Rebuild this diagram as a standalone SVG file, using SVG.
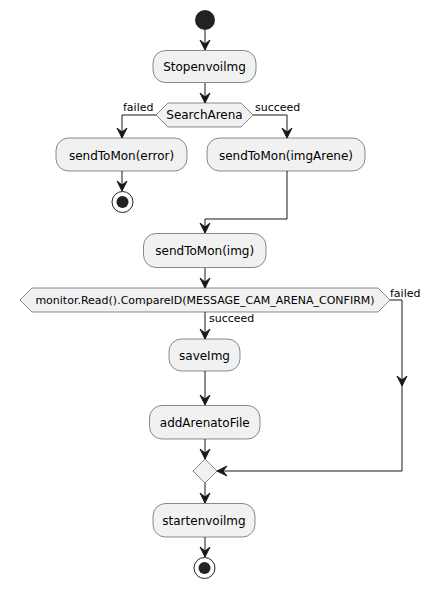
<svg xmlns="http://www.w3.org/2000/svg" width="432" height="589" viewBox="0 0 432 589">
<defs>
<style>
.box{fill:#F1F1F1;stroke:#181818;stroke-width:0.5}
.t{font-family:"DejaVu Sans",sans-serif;font-size:12px;fill:#000;text-anchor:middle}
.l{font-family:"DejaVu Sans",sans-serif;font-size:11px;fill:#000}
.c{fill:none;stroke:#181818;stroke-width:1}
.ah{fill:#181818;stroke:#181818;stroke-width:1}
</style>
<polygon id="ad" class="ah" points="0,0 -5,-10 0,-6 5,-10"/>
</defs>
<rect width="432" height="589" fill="#fff"/>
<g id="start"><circle cx="205" cy="20" r="10" fill="#222"/></g>
<g id="stopenvoi"><rect class="box" x="153" y="50.5" width="103" height="32" rx="12.5"/><text class="t" x="204.5" y="71">Stopenvoilmg</text></g>
<g id="searcharena"><polygon class="box" points="156,115 168,103 241,103 253,115 241,127 168,127"/><text class="t" x="204.5" y="119">SearchArena</text></g>
<g id="senderror"><rect class="box" x="56" y="138" width="131" height="33" rx="12.5"/><text class="t" x="121.5" y="160">sendToMon(error)</text></g>
<g id="stop1"><circle cx="122.5" cy="202" r="10.5" fill="none" stroke="#222" stroke-width="1"/><circle cx="122.5" cy="202" r="6" fill="#222"/></g>
<g id="sendimgarene"><rect class="box" x="207" y="138" width="158" height="33" rx="12.5"/><text class="t" x="286" y="160">sendToMon(imgArene)</text></g>
<g id="sendimg"><rect class="box" x="143.5" y="233.5" width="122.5" height="34" rx="12.5"/><text class="t" x="204.75" y="255">sendToMon(img)</text></g>
<g id="compare"><polygon class="box" points="20,300 32,288 378,288 390,300 378,312 32,312"/><text class="t" x="205" y="304" style="font-size:11px">monitor.Read().CompareID(MESSAGE_CAM_ARENA_CONFIRM)</text></g>
<g id="saveimg"><rect class="box" x="169" y="339" width="71" height="32" rx="12.5"/><text class="t" x="204.5" y="360">saveImg</text></g>
<g id="addarena"><rect class="box" x="149.5" y="405.5" width="110.5" height="33.5" rx="12.5"/><text class="t" x="204.75" y="427">addArenatoFile</text></g>
<g id="merge"><polygon class="box" points="193,471 205,459 217,471 205,483"/></g>
<g id="startenvoi"><rect class="box" x="153" y="503.5" width="102" height="33.5" rx="12.5"/><text class="t" x="204" y="525">startenvoilmg</text></g>
<g id="stop2"><circle cx="204.5" cy="568" r="10.5" fill="none" stroke="#222" stroke-width="1"/><circle cx="204.5" cy="568" r="6" fill="#222"/></g>
<g id="connectors">
<line class="c" x1="205" y1="30" x2="205" y2="50"/><use href="#ad" x="205" y="50"/>
<line class="c" x1="205" y1="83" x2="205" y2="103"/><use href="#ad" x="205" y="103"/>
<polyline class="c" points="156,115 122,115 122,138"/><use href="#ad" x="122" y="138"/>
<text class="l" x="123" y="111">failed</text>
<polyline class="c" points="253,115 287,115 287,138"/><use href="#ad" x="287" y="138"/>
<text class="l" x="255" y="111">succeed</text>
<line class="c" x1="122" y1="171" x2="122" y2="191"/><use href="#ad" x="122" y="191"/>
<polyline class="c" points="287,171 287,219 205,219 205,233"/><use href="#ad" x="205" y="233"/>
<line class="c" x1="205" y1="268" x2="205" y2="288"/><use href="#ad" x="205" y="288"/>
<line class="c" x1="205" y1="312" x2="205" y2="339"/><use href="#ad" x="205" y="339"/>
<text class="l" x="209" y="322">succeed</text>
<polyline class="c" points="390,300 402,300 402,471 217,471"/><use href="#ad" x="402" y="386"/>
<use href="#ad" transform="translate(217,471) rotate(90)"/>
<text class="l" x="390" y="297">failed</text>
<line class="c" x1="205" y1="371" x2="205" y2="405"/><use href="#ad" x="205" y="405"/>
<line class="c" x1="205" y1="439" x2="205" y2="459"/><use href="#ad" x="205" y="459"/>
<line class="c" x1="205" y1="483" x2="205" y2="503"/><use href="#ad" x="205" y="503"/>
<line class="c" x1="205" y1="537" x2="205" y2="557"/><use href="#ad" x="205" y="557"/>
</g>
</svg>
